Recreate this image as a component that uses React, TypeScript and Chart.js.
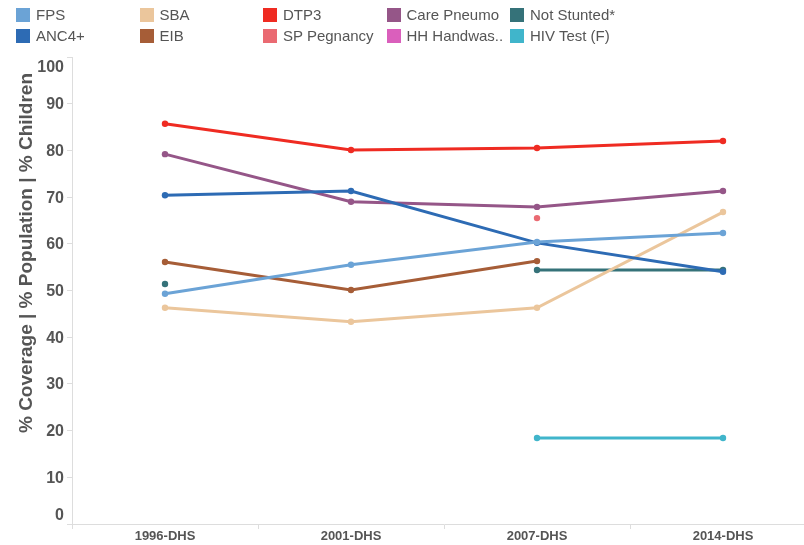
import React, { useEffect, useRef } from 'react';
import { Chart, registerables } from 'chart.js';

Chart.register(...registerables);

const categories = ['1996-DHS', '2001-DHS', '2007-DHS', '2014-DHS'];
const fps = [49.3, 55.5, 60.4, 62.3];
const anc4 = [70.4, 71.3, 60.2, 54.0];
const sba = [46.3, 43.3, 46.3, 66.8];
const eib = [56.1, 50.1, 56.3, null];
const dtp3 = [85.7, 80.1, 80.5, 82.0];
const spPregnancy = [null, null, 65.5, null];
const carePneumo = [79.2, 69.0, 67.9, 71.3];
const hhHandwash = [null, null, null, null];
const notStunted = [51.4, null, 54.4, 54.4];
const hivTest = [null, null, 18.4, 18.4];
const yTicks = [0, 10, 20, 30, 40, 50, 60, 70, 80, 90, 100];
const yTitle = '% Coverage | % Population | % Children';

const seriesNames = ['FPS', 'ANC4+', 'SBA', 'EIB', 'DTP3', 'SP Pegnancy', 'Care Pneumo', 'HH Handwas..', 'Not Stunted*', 'HIV Test (F)'];
const seriesValues = [fps, anc4, sba, eib, dtp3, spPregnancy, carePneumo, hhHandwash, notStunted, hivTest];
const seriesColors = ['#6ba3d6', '#2d6bb4', '#ebc69c', '#a65d37', '#ef2b22', '#ea6a72', '#955688', '#da5fbc', '#357279', '#40b5cb'];

const FONT = "'Liberation Sans', Arial, Helvetica, sans-serif";

const labelsPlugin = {
  id: 'customYLabels',
  afterDraw(chart: any) {
    const ctx = chart.ctx;
    const y = chart.scales.y;
    const area = chart.chartArea;
    ctx.save();
    ctx.fillStyle = '#555555';
    ctx.font = `bold 16px ${FONT}`;
    ctx.textAlign = 'right';
    ctx.textBaseline = 'middle';
    yTicks.forEach((t) => {
      let py = y.getPixelForValue(t);
      py = Math.max(area.top + 10, Math.min(area.bottom - 9, py)) + 1;
      ctx.fillText(String(t), 64, py);
    });
    ctx.translate(27, 253);
    ctx.rotate(-Math.PI / 2);
    ctx.textAlign = 'center';
    ctx.font = `bold 19px ${FONT}`;
    ctx.fillText(yTitle, 0, 0);
    ctx.restore();
  },
};

export default function App() {
  const canvasRef = useRef<HTMLCanvasElement | null>(null);

  useEffect(() => {
    if (!canvasRef.current) return;
    const chart = new Chart(canvasRef.current, {
      type: 'line',
      data: {
        labels: categories,
        datasets: seriesNames.map((name, i) => ({
          label: name,
          data: seriesValues[i] as any,
          borderColor: seriesColors[i],
          backgroundColor: seriesColors[i],
          pointBackgroundColor: seriesColors[i],
          pointBorderColor: seriesColors[i],
          borderWidth: 3,
          pointRadius: 3.2,
          pointBorderWidth: 0,
          spanGaps: false,
          fill: false,
          tension: 0,
        })),
      },
      options: {
        responsive: false,
        animation: false,
        devicePixelRatio: 1,
        layout: { padding: { top: 57, left: 0, right: 0, bottom: 0 } },
        plugins: {
          legend: { display: false },
          tooltip: { enabled: false },
          title: { display: false },
        },
        scales: {
          x: {
            type: 'category',
            offset: true,
            afterFit: (scale: any) => {
              scale.height = 21;
            },
            grid: {
              offset: true,
              drawOnChartArea: false,
              drawTicks: true,
              tickLength: 5,
              color: '#dddddd',
            },
            border: { display: true, color: '#dddddd' },
            ticks: {
              color: '#555555',
              font: { family: FONT, size: 13, weight: 'bold' },
              padding: 0,
              maxRotation: 0,
            },
          },
          y: {
            type: 'linear',
            min: 0,
            max: 100,
            afterFit: (scale: any) => {
              scale.width = 72;
            },
            grid: {
              drawOnChartArea: false,
              drawTicks: true,
              tickLength: 5,
              color: '#dddddd',
            },
            border: { display: true, color: '#dddddd' },
            ticks: {
              stepSize: 10,
              color: 'rgba(0,0,0,0)',
              font: { family: FONT, size: 15, weight: 'bold' },
            },
          },
        },
      },
      plugins: [labelsPlugin],
    } as any);
    return () => chart.destroy();
  }, []);

  const colX = (c: number) => 16 + c * 123.5;
  const rowY = (r: number) => 8 + r * 21;

  return (
    <div style={{ position: 'absolute', left: 0, top: 0, width: 804, height: 545, overflow: 'hidden', background: '#ffffff' }}>
      <div style={{ position: 'absolute', left: 0, top: 0, width: 820, height: 545 }}>
        <canvas ref={canvasRef} width={820} height={545} style={{ width: 820, height: 545, display: 'block' }} />
      </div>
      {seriesNames.map((name, i) => {
        const c = Math.floor(i / 2);
        const r = i % 2;
        return (
          <div
            key={name}
            style={{
              position: 'absolute',
              left: colX(c),
              top: rowY(r),
              height: 14,
              display: 'flex',
              alignItems: 'center',
              whiteSpace: 'nowrap',
            }}
          >
            <div style={{ width: 14, height: 14, background: seriesColors[i], flex: '0 0 auto' }} />
            <span style={{ marginLeft: 6, fontFamily: FONT, fontSize: 15, color: '#555555', lineHeight: '14px' }}>{name}</span>
          </div>
        );
      })}
    </div>
  );
}
